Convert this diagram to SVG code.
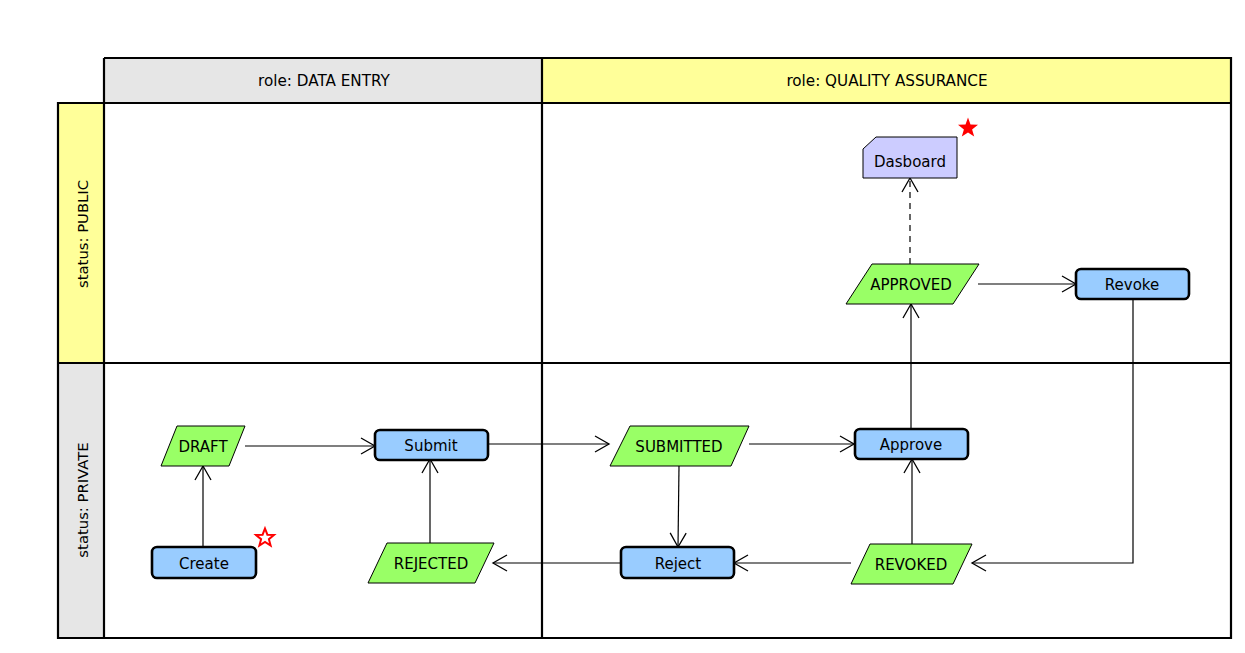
<svg xmlns="http://www.w3.org/2000/svg" width="1245" height="653" viewBox="0 0 1245 653">
<defs>
<style>
.hdr{font-family:"DejaVu Sans",sans-serif;font-size:15.2px;fill:#000;text-anchor:middle;dominant-baseline:central}
.rhdr{font-family:"DejaVu Sans",sans-serif;font-size:14.8px;fill:#000;text-anchor:middle;dominant-baseline:central}
.lbl{font-family:"DejaVu Sans Condensed","DejaVu Sans",sans-serif;font-stretch:condensed;font-size:16.7px;fill:#000;text-anchor:middle;dominant-baseline:central}
.grid{fill:none;stroke:#000;stroke-width:2.2}
.state{fill:#99ff66;stroke:#000;stroke-width:1}
.act{fill:#99ccff;stroke:#000;stroke-width:2.6}
.doc{fill:#ccccff;stroke:#000;stroke-width:1}
.edge{fill:none;stroke:#000;stroke-width:1.2}
.dash{stroke-dasharray:6,5}
</style>
<marker id="arr" markerUnits="userSpaceOnUse" markerWidth="20" markerHeight="20" viewBox="-16 -10 20 20" refX="0" refY="0" orient="auto">
<path d="M-14,-8 L0,0 L-14,8" fill="none" stroke="#000" stroke-width="1.3"/>
</marker>
</defs>
<rect width="1245" height="653" fill="#fff"/>
<g id="lanes">
<rect x="104" y="58" width="438" height="45" fill="#e6e6e6"/>
<rect x="542" y="58" width="689" height="45" fill="#ffff99"/>
<rect x="58" y="103" width="46" height="260" fill="#ffff99"/>
<rect x="58" y="363" width="46" height="275" fill="#e6e6e6"/>
<rect x="104" y="103" width="1127" height="535" fill="#fff"/>
<path class="grid" d="M104,58 H1231 V638 H58 V103 H1231 M104,58 V638 M542,58 V638 M58,363 H1231"/>
<text class="hdr" x="324" y="81">role: DATA ENTRY</text>
<text class="hdr" x="887" y="81">role: QUALITY ASSURANCE</text>
<text class="rhdr" transform="translate(82,234) rotate(-90)">status: PUBLIC</text>
<text class="rhdr" transform="translate(82,500) rotate(-90)">status: PRIVATE</text>
</g>
<g id="connectors">
<path class="edge" d="M203,547 V466" marker-end="url(#arr)"/>
<path class="edge" d="M245,446 H375" marker-end="url(#arr)"/>
<path class="edge" d="M430,543 V459" marker-end="url(#arr)"/>
<path class="edge" d="M488,444 H609" marker-end="url(#arr)"/>
<path class="edge" d="M749,444 H854" marker-end="url(#arr)"/>
<path class="edge" d="M679,466 L678,547" marker-end="url(#arr)"/>
<path class="edge" d="M851,563 H734" marker-end="url(#arr)"/>
<path class="edge" d="M621,563 H493" marker-end="url(#arr)"/>
<path class="edge" d="M912,544 V459" marker-end="url(#arr)"/>
<path class="edge" d="M911,429 V304" marker-end="url(#arr)"/>
<path class="edge" d="M978,284 H1076" marker-end="url(#arr)"/>
<path class="edge" d="M1133,300 V563 H972" marker-end="url(#arr)"/>
<path class="edge dash" d="M910,264 V178" marker-end="url(#arr)"/>
</g>
<g id="create">
<rect class="act" x="152" y="547" width="104" height="31" rx="5"/>
<text class="lbl" x="204" y="563">Create</text>
<path d="M265,528.5 L267.4,534.7 L274,535 L268.9,539.2 L270.6,545.6 L265,542 L259.4,545.6 L261.1,539.2 L256,535 L262.6,534.7 Z" fill="none" stroke="#ff0000" stroke-width="2"/>
</g>
<g id="draft">
<polygon class="state" points="177,426 245,426 229,466 161,466"/>
<text class="lbl" x="203" y="446">DRAFT</text>
</g>
<g id="submit">
<rect class="act" x="375" y="430" width="113" height="30" rx="5"/>
<text class="lbl" x="431" y="445">Submit</text>
</g>
<g id="rejected">
<polygon class="state" points="387,543 494,543 475,583 368,583"/>
<text class="lbl" x="431" y="563">REJECTED</text>
</g>
<g id="submitted">
<polygon class="state" points="630,426 749,426 731,466 610,466"/>
<text class="lbl" x="679" y="446">SUBMITTED</text>
</g>
<g id="approve">
<rect class="act" x="855" y="429" width="113" height="30" rx="5"/>
<text class="lbl" x="911" y="444">Approve</text>
</g>
<g id="reject">
<rect class="act" x="621" y="547" width="113" height="31" rx="5"/>
<text class="lbl" x="678" y="563">Reject</text>
</g>
<g id="revoked">
<polygon class="state" points="870,544 972,544 953,584 851,584"/>
<text class="lbl" x="911" y="564">REVOKED</text>
</g>
<g id="approved">
<polygon class="state" points="872,264 979,264 953,304 846,304"/>
<text class="lbl" x="911" y="284">APPROVED</text>
</g>
<g id="revoke">
<rect class="act" x="1076" y="269" width="113" height="30" rx="5"/>
<text class="lbl" x="1132" y="284">Revoke</text>
</g>
<g id="dasboard">
<path class="doc" d="M876,137 H957 V178 H863 V149 Z"/>
<text class="lbl" x="910" y="161">Dasboard</text>
<path d="M968,117.5 L970.5,124.5 L978,124.8 L972.1,129.4 L974.2,136.6 L968,132.4 L961.8,136.6 L963.9,129.4 L958,124.8 L965.5,124.5 Z" fill="#ff0000"/>
</g>
</svg>
